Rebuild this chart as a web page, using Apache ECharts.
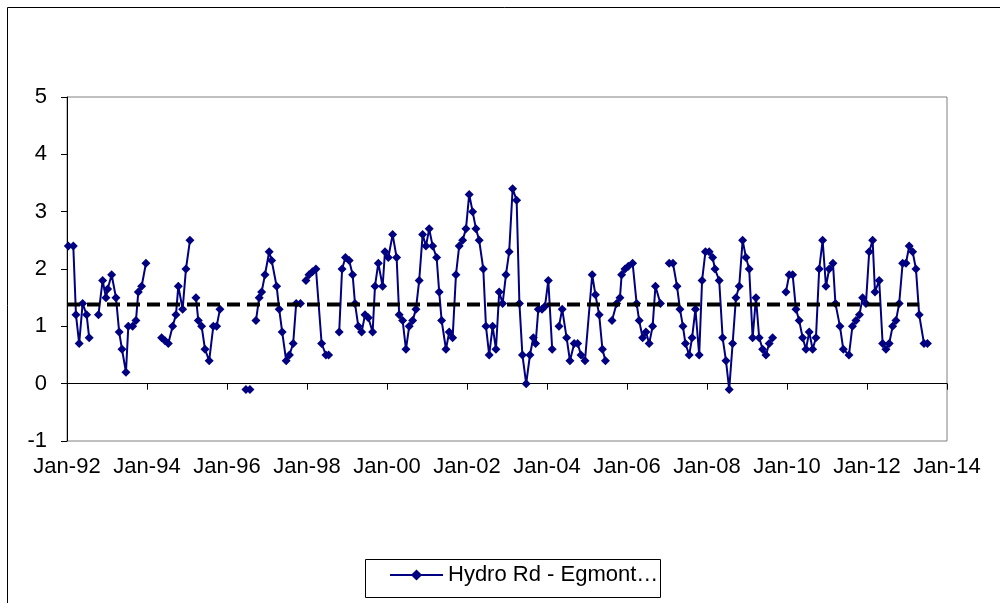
<!DOCTYPE html>
<html>
<head>
<meta charset="utf-8">
<title>Hydro Rd - Egmont</title>
<script src="https://cdn.jsdelivr.net/npm/echarts@6/dist/echarts.min.js"></script>
<style>
  html, body { margin: 0; padding: 0; background: #fff; }
  #chart { width: 1000px; height: 603px; }
</style>
</head>
<body>
<div id="chart"></div>
<script>
// sample dates, a null value breaks the line (missing months)
var sampleDates = [
  '1992-01-13', '1992-02-28', '1992-03-22', '1992-04-21', '1992-05-22', '1992-06-28', '1992-07-21', '1992-09-01',
  '1992-10-14', '1992-11-22', '1992-12-22', '1993-01-07', '1993-02-13', '1993-03-22', '1993-04-21', '1993-05-16',
  '1993-06-22', '1993-07-13', '1993-08-22', '1993-09-22', '1993-10-13', '1993-11-13', '1993-12-22', '1994-03-01',
  '1994-05-13', '1994-06-13', '1994-07-13', '1994-08-22', '1994-09-22', '1994-10-13', '1994-11-22', '1994-12-22',
  '1995-01-28', '1995-02-25', '1995-03-22', '1995-04-13', '1995-05-13', '1995-06-13', '1995-07-21', '1995-08-28',
  '1995-09-28', '1995-10-28', '1996-03-01', '1996-06-22', '1996-07-28', '1996-08-25', '1996-09-22', '1996-10-21',
  '1996-11-13', '1996-12-13', '1997-01-21', '1997-02-13', '1997-03-28', '1997-04-21', '1997-05-18', '1997-06-24',
  '1997-07-23', '1997-08-27', '1997-09-24', '1997-11-02', '1997-11-28', '1997-12-22', '1998-01-19', '1998-02-20',
  '1998-03-22', '1998-05-13', '1998-06-22', '1998-07-16', '1998-09-01', '1998-10-21', '1998-11-17', '1998-12-17',
  '1999-01-21', '1999-02-22', '1999-03-13', '1999-04-13', '1999-05-13', '1999-06-13', '1999-07-13', '1999-08-22',
  '1999-09-13', '1999-10-13', '1999-11-22', '1999-12-13', '2000-01-13', '2000-02-22', '2000-03-28', '2000-04-21',
  '2000-05-22', '2000-06-22', '2000-07-21', '2000-08-22', '2000-09-22', '2000-10-21', '2000-11-22', '2000-12-22',
  '2001-01-21', '2001-02-22', '2001-03-28', '2001-04-21', '2001-05-13', '2001-06-22', '2001-07-21', '2001-08-22',
  '2001-09-22', '2001-10-21', '2001-11-22', '2001-12-22', '2002-01-21', '2002-02-22', '2002-03-22', '2002-04-21',
  '2002-05-28', '2002-06-22', '2002-07-21', '2002-08-22', '2002-09-22', '2002-10-21', '2002-11-22', '2002-12-22',
  '2003-01-21', '2003-02-22', '2003-03-28', '2003-04-23', '2003-05-20', '2003-06-24', '2003-07-28', '2003-08-28',
  '2003-09-19', '2003-10-13', '2003-11-16', '2003-12-13', '2004-01-13', '2004-02-18', '2004-03-18', '2004-04-19',
  '2004-05-18', '2004-06-28', '2004-07-28', '2004-09-06', '2004-10-07', '2004-11-07', '2004-12-13', '2005-02-18',
  '2005-03-17', '2005-04-21', '2005-05-20', '2005-06-17', '2005-07-17', '2005-08-16', '2005-09-28', '2005-10-28',
  '2005-11-13', '2005-12-13', '2006-01-13', '2006-02-22', '2006-03-28', '2006-04-21', '2006-05-22', '2006-06-22',
  '2006-07-21', '2006-08-22', '2006-09-17', '2006-11-02', '2006-12-10', '2007-01-21', '2007-02-25', '2007-04-01',
  '2007-04-28', '2007-05-25', '2007-06-17', '2007-07-21', '2007-08-17', '2007-09-17', '2007-10-21', '2007-11-17',
  '2007-12-17', '2008-01-21', '2008-02-22', '2008-03-13', '2008-04-21', '2008-05-22', '2008-06-22', '2008-07-21',
  '2008-08-22', '2008-09-22', '2008-10-21', '2008-11-22', '2008-12-22', '2009-01-21', '2009-02-22', '2009-03-22',
  '2009-04-21', '2009-05-22', '2009-06-22', '2009-07-21', '2009-08-22', '2009-10-20', '2009-12-22', '2010-01-21',
  '2010-02-22', '2010-03-22', '2010-04-21', '2010-05-22', '2010-06-22', '2010-07-21', '2010-08-22', '2010-09-22',
  '2010-10-21', '2010-11-22', '2010-12-22', '2011-01-21', '2011-02-25', '2011-03-17', '2011-04-28', '2011-05-28',
  '2011-07-19', '2011-08-20', '2011-09-22', '2011-10-23', '2011-11-22', '2011-12-22', '2012-01-21', '2012-02-22',
  '2012-03-13', '2012-04-21', '2012-05-22', '2012-06-22', '2012-07-21', '2012-08-22', '2012-09-22', '2012-10-21',
  '2012-11-22', '2012-12-22', '2013-01-21', '2013-02-22', '2013-03-22', '2013-04-21', '2013-06-04', '2013-07-05'
]
var hydroValues = [
  2.4, 2.4, 1.2, 0.7, 1.4, 1.2, 0.8, null,
  1.2, 1.8, 1.5, 1.65, 1.9, 1.5, 0.9, 0.6,
  0.2, 1.0, 1.0, 1.1, 1.6, 1.7, 2.1, null,
  0.8, 0.75, 0.7, 1.0, 1.2, 1.7, 1.3, 2.0,
  2.5, null, 1.5, 1.1, 1.0, 0.6, 0.4, 1.0,
  1.0, 1.3, null, -0.1, -0.1, null, 1.1, 1.5,
  1.6, 1.9, 2.3, 2.15, 1.7, 1.3, 0.9, 0.4,
  0.5, 0.7, 1.4, 1.4, null, 1.8, 1.9, 1.95,
  2.0, 0.7, 0.5, 0.5, null, 0.9, 2.0, 2.2,
  2.15, 1.9, 1.4, 1.0, 0.9, 1.2, 1.15, 0.9,
  1.7, 2.1, 1.7, 2.3, 2.2, 2.6, 2.2, 1.2,
  1.1, 0.6, 1.0, 1.1, 1.3, 1.8, 2.6, 2.4,
  2.7, 2.4, 2.2, 1.6, 1.1, 0.6, 0.9, 0.8,
  1.9, 2.4, 2.5, 2.7, 3.3, 3.0, 2.7, 2.5,
  2.0, 1.0, 0.5, 1.0, 0.6, 1.6, 1.4, 1.9,
  2.3, 3.4, 3.2, 1.4, 0.5, 0.0, 0.5, 0.8,
  0.7, 1.3, 1.3, 1.35, 1.8, 0.6, null, 1.0,
  1.3, 0.8, 0.4, 0.7, 0.7, 0.5, 0.4, 1.9,
  1.55, 1.2, 0.6, 0.4, null, 1.1, 1.4, 1.5,
  1.9, 2.0, 2.05, 2.1, 1.4, 1.1, 0.8, 0.9,
  0.7, 1.0, 1.7, 1.4, null, 2.1, 2.1, 1.7,
  1.3, 1.0, 0.7, 0.5, 0.8, 1.3, 0.5, 1.8,
  2.3, 2.3, 2.2, 2.0, 1.8, 0.8, 0.4, -0.1,
  0.7, 1.5, 1.7, 2.5, 2.2, 2.0, 0.8, 1.5,
  0.8, 0.6, 0.5, 0.7, 0.8, null, 1.6, 1.9,
  1.9, 1.3, 1.1, 0.8, 0.6, 0.9, 0.6, 0.8,
  2.0, 2.5, 1.7, 2.0, 2.1, 1.4, 1.0, 0.6,
  0.5, 1.0, 1.1, 1.2, 1.5, 1.4, 2.3, 2.5,
  1.6, 1.8, 0.7, 0.6, 0.7, 1.0, 1.1, 1.4,
  2.1, 2.1, 2.4, 2.3, 2.0, 1.2, 0.7, 0.7
]
// long term mean (dashed line)
var meanValue = 1.38
var meanDates = ['1992-01-01', '2013-04-21']
var yearTicks = [1992, 1994, 1996, 1998, 2000, 2002, 2004, 2006, 2008, 2010, 2012, 2014]
var seriesName = 'Hydro Rd - Egmont\u2026'

// date string -> decimal year, so the x axis can be a plain value axis
function toYear (s) {
  var p = s.split('-')
  return +p[0] + (p[1] - 1) / 12 + (p[2] - 1) / 365
}

const hydroData = sampleDates.map((d, i) => [toYear(d), hydroValues[i] === null ? '-' : hydroValues[i]])
const meanData = meanDates.map(d => [toYear(d), meanValue])

const chart = echarts.init(document.getElementById('chart'))
const font = '"Liberation Sans", Arial, sans-serif'

const option = {
  animation: false,
  backgroundColor: '#fff',
  textStyle: { fontFamily: font },
  grid: {
    left: 67,
    right: 53,
    top: 97,
    bottom: 162,
    show: true,
    borderColor: '#808080',
    borderWidth: 1
  },
  legend: {
    left: 389,
    top: 564,
    padding: 0,
    itemWidth: 53,
    itemHeight: 14,
    data: [seriesName],
    textStyle: { fontSize: 22, color: '#000', fontFamily: font }
  },
  xAxis: {
    type: 'value',
    min: yearTicks[0],
    max: yearTicks[yearTicks.length - 1],
    interval: 2,
    splitLine: { show: false },
    axisLine: { lineStyle: { color: '#000', width: 1 } },
    axisTick: { length: 6, lineStyle: { color: '#000' } },
    axisLabel: {
      color: '#000',
      fontSize: 22,
      margin: 15,
      formatter: (v) => 'Jan-' + String(v).slice(2)
    }
  },
  yAxis: {
    type: 'value',
    min: -1,
    max: 5,
    interval: 1,
    splitLine: { show: false },
    axisLine: { show: true, lineStyle: { color: '#000', width: 1 } },
    axisTick: { show: true, length: 6, lineStyle: { color: '#000' } },
    axisLabel: { color: '#000', fontSize: 22, margin: 20 }
  },
  graphic: [
    // outer chart border
    { type: 'rect', left: 5, top: 5, shape: { width: 1000, height: 610 }, style: { fill: 'none', stroke: '#000', lineWidth: 1 }, silent: true },
    // legend frame
    { type: 'rect', left: 363, top: 557, shape: { width: 295, height: 38 }, style: { fill: 'none', stroke: '#000', lineWidth: 1 }, silent: true }
  ],
  series: [
    {
      name: seriesName,
      type: 'line',
      data: hydroData,
      connectNulls: false,
      symbol: 'diamond',
      symbolSize: 9,
      itemStyle: { color: '#000080' },
      lineStyle: { color: '#000080', width: 2 },
      z: 3
    },
    {
      name: 'mean',
      type: 'line',
      data: meanData,
      symbol: 'none',
      lineStyle: { color: '#000', width: 4, type: [13, 7] },
      z: 4
    }
  ]
}
chart.setOption(option)
</script>
</body>
</html>
